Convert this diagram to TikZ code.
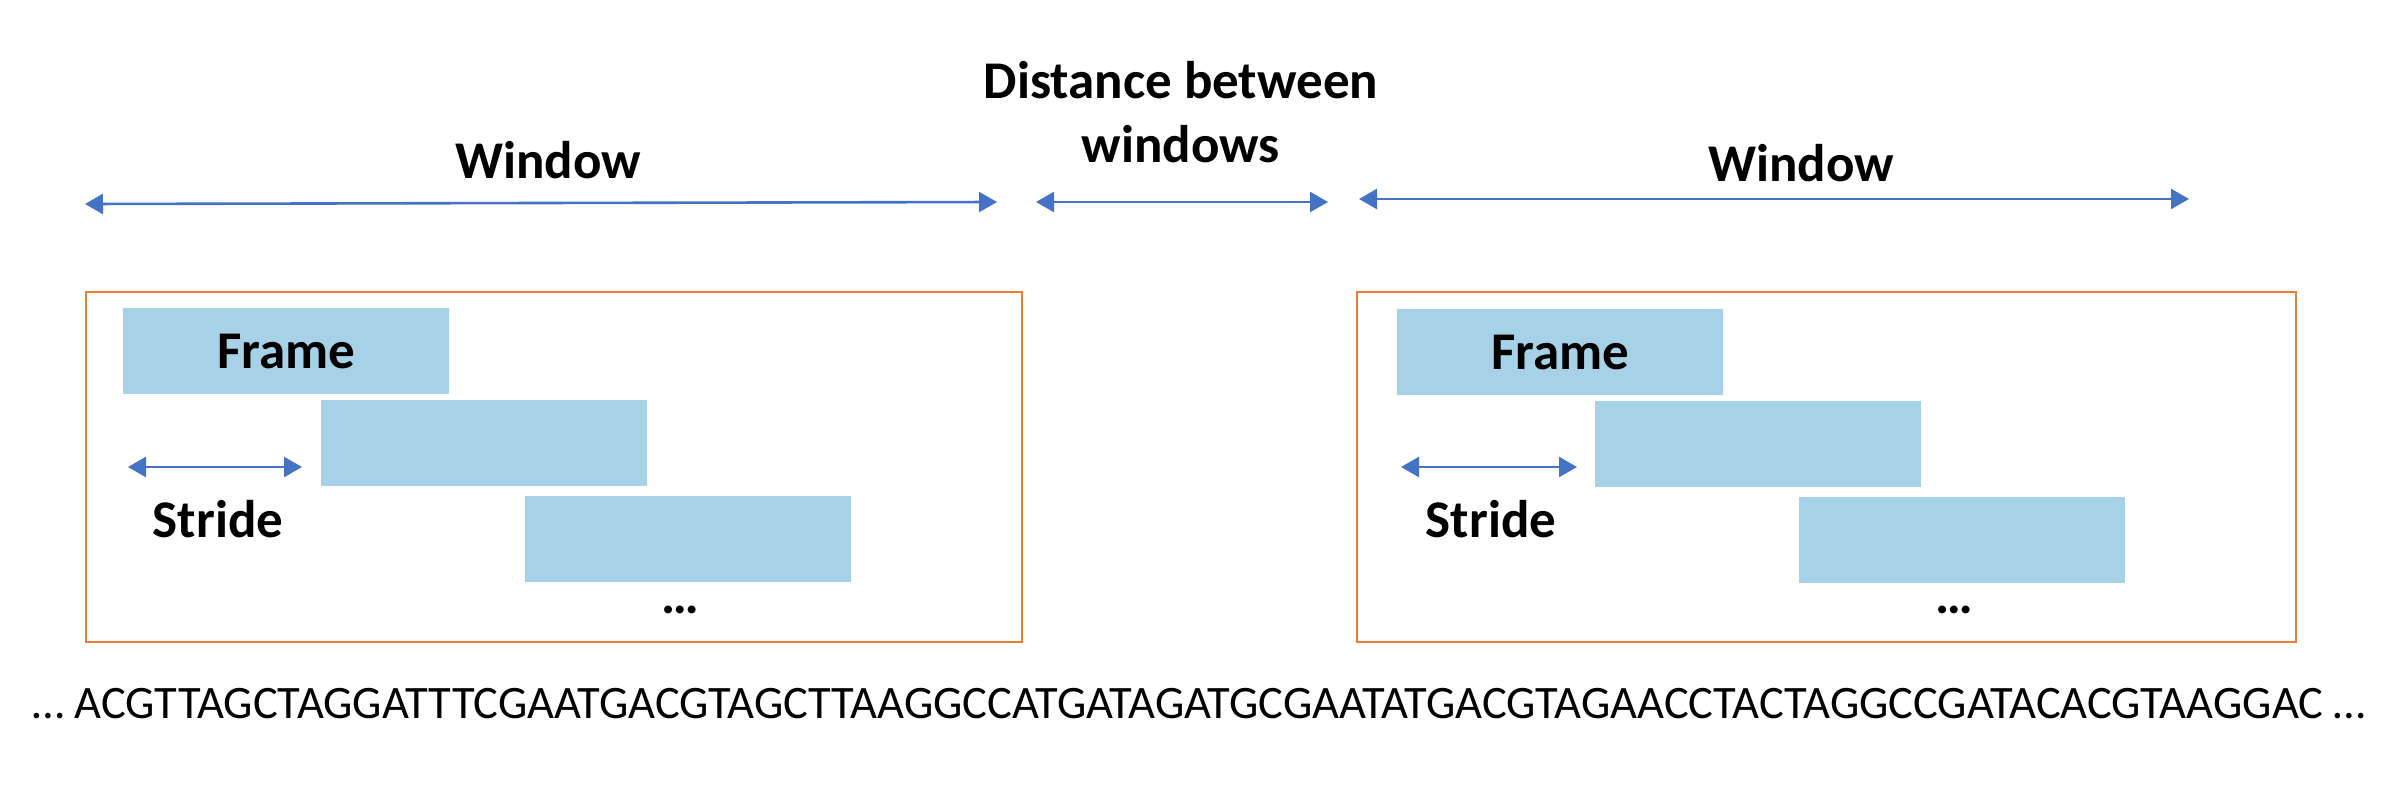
\documentclass[tikz,border=0pt]{standalone}
\usepackage{fontspec}
\setmainfont{Carlito}
\usetikzlibrary{arrows.meta}
\definecolor{obox}{HTML}{ED7D31}
\definecolor{fblue}{HTML}{A6D1E6}
\definecolor{ablue}{HTML}{4472C4}
\tikzset{
  lbl/.style={font=\fontsize{53}{64}\selectfont\bfseries, inner sep=0pt, anchor=base, align=center},
  seqtext/.style={font=\fontsize{46.5}{54}\selectfont, inner sep=0pt, anchor=base},
  winbox/.style={draw=obox, line width=2.6pt, fill=none},
  framebox/.style={fill=fblue, draw=none, anchor=north west, minimum width=326pt, minimum height=86pt, inner sep=0pt,
     font=\fontsize{53}{64}\selectfont\bfseries},
  dblarrow/.style={draw=ablue, line width=2.6pt, {Triangle[length=18pt,width=20pt]}-{Triangle[length=18pt,width=20pt]}},
}
\begin{document}
\begin{tikzpicture}[x=1pt,y=-1pt]
\useasboundingbox (0,0) rectangle (2406,792);
% top labels
\node[lbl] (w1) at (548,178) {Window};
\node[lbl] (dist) at (1181,162) {Distance between\\windows};
\node[lbl] (w2) at (1801,181) {Window};
% top arrows
\coordinate (w1a) at (85,204);
\coordinate (w1b) at (997,202);
\coordinate (da) at (1036,202);
\coordinate (db) at (1328,202);
\coordinate (w2a) at (1359,199);
\coordinate (w2b) at (2189,199);
\draw[dblarrow] (w1a) -- (w1b);
\draw[dblarrow] (da) -- (db);
\draw[dblarrow] (w2a) -- (w2b);
% window boxes
\draw[winbox] (86,292) rectangle (1022,642);
\draw[winbox] (1357,292) rectangle (2296,642);
% frames left
\node[framebox] (f1) at (123,308) {Frame};
\node[framebox] (f2) at (321,400) {};
\node[framebox] (f3) at (525,496) {};
\coordinate (s1a) at (128,467);
\coordinate (s1b) at (302,467);
\draw[dblarrow] (s1a) -- (s1b);
\node[lbl] (st1) at (218,537) {Stride};
\node[lbl] (dots1) at (680,613) {…};
% frames right
\node[framebox] (g1) at (1397,309) {Frame};
\node[framebox] (g2) at (1595,401) {};
\node[framebox] (g3) at (1799,497) {};
\coordinate (s2a) at (1401,467);
\coordinate (s2b) at (1577,467);
\draw[dblarrow] (s2a) -- (s2b);
\node[lbl] (st2) at (1491,537) {Stride};
\node[lbl] (dots2) at (1954,613) {…};
% sequence
\node[seqtext] (seq) at (1199,718) {… ACGTTAGCTAGGATTTCGAATGACGTAGCTTAAGGCCATGATAGATGCGAATATGACGTAGAACCTACTAGGCCGATACACGTAAGGAC …};
\end{tikzpicture}
\end{document}
